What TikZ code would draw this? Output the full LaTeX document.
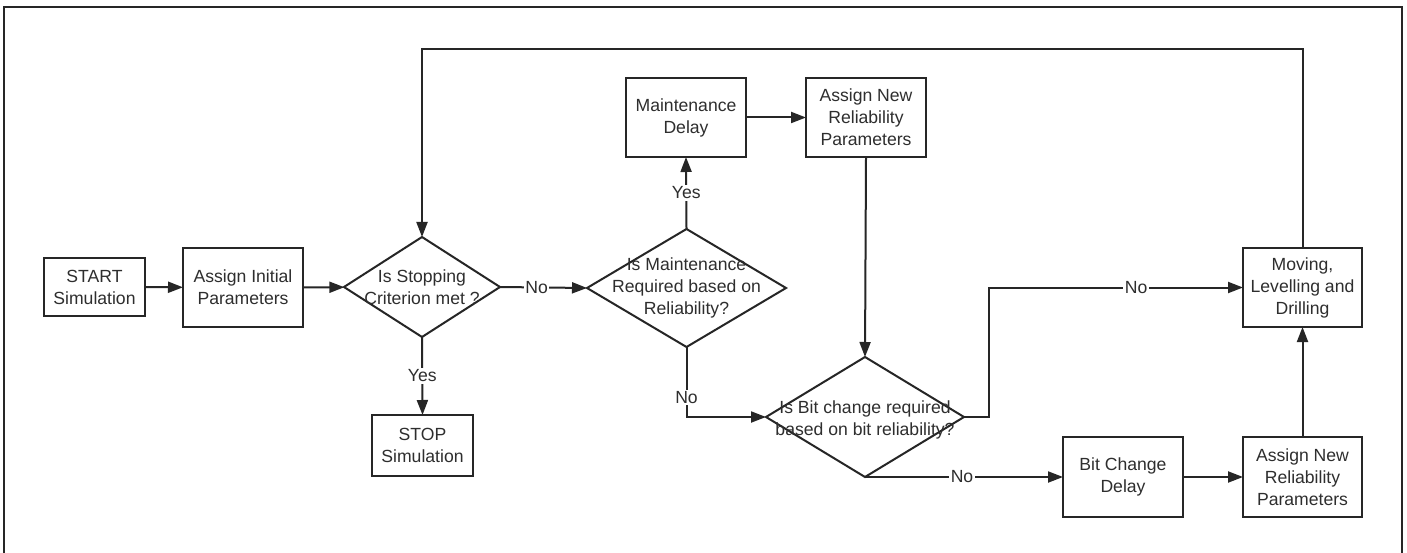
\documentclass[tikz,border=0pt]{standalone}
\usepackage{fontspec}
\setmainfont{Liberation Sans}
\usetikzlibrary{arrows.meta,shapes.geometric}
\definecolor{ink}{HTML}{262626}
\definecolor{txt}{HTML}{2E2E2E}
\begin{document}
\begin{tikzpicture}[x=1pt,y=-1pt,
  every node/.style={font=\fontsize{17.6}{22}\selectfont, text=txt},
  box/.style={draw=ink, line width=2pt, fill=white, inner sep=0pt, outer sep=0pt, align=center},
  dia/.style={draw=ink, line width=2pt, diamond, inner sep=0pt, outer sep=0pt},
  lbl/.style={align=center, inner sep=0pt},
  tag/.style={fill=white, inner sep=1.5pt},
  flow/.style={draw=ink, line width=2pt, -{Triangle[length=15pt,width=11pt]}}]
\useasboundingbox (0,0) rectangle (1407,553);
\fill[white] (0,0) rectangle (1407,553);
% outer frame
\draw[ink, line width=1.3pt] (4,570) -- (4,7) -- (1402,7) -- (1402,570);

% process boxes
\node[box, minimum width=101pt, minimum height=58pt] (start) at (94.5,287) {START\\Simulation};
\node[box, minimum width=120pt, minimum height=79pt] (init) at (243,287.5) {Assign Initial\\Parameters};
\node[box, minimum width=101pt, minimum height=61pt] (stop) at (422.5,445.5) {STOP\\Simulation};
\node[box, minimum width=120pt, minimum height=79pt] (maint) at (686,117.5) {Maintenance\\Delay};
\node[box, minimum width=120pt, minimum height=79pt] (relA) at (866,117.5) {Assign New\\Reliability\\Parameters};
\node[box, minimum width=119pt, minimum height=79pt] (move) at (1302.5,287.5) {Moving,\\Levelling and\\Drilling};
\node[box, minimum width=120pt, minimum height=80pt] (bitd) at (1123,477) {Bit Change\\Delay};
\node[box, minimum width=119pt, minimum height=80pt] (relB) at (1302.5,477) {Assign New\\Reliability\\Parameters};

% decisions
\node[dia, minimum width=156pt, minimum height=100pt] (d1) at (422,287) {};
\node[lbl] at (d1) {Is Stopping\\Criterion met ?};
\node[dia, minimum width=199pt, minimum height=118pt] (d2) at (686.5,288) {};
\node[lbl] at (d2) {Is Maintenance\\Required based on\\Reliability?};
\node[dia, minimum width=198pt, minimum height=120pt] (d3) at (865,417) {};
\node[lbl] at ([yshift=-3pt]d3.center) {Is Bit change required\\based on bit reliability?};

\coordinate (loop) at (1302.5,49);
\coordinate (jog) at (988.5,417);

% connectors
\draw[flow] (start) -- (init);
\draw[flow] (init) -- (d1);
\draw[flow] (d1.east) -- node[tag, pos=0.42] {No} (d2.west);
\draw[flow] (d1.south) -- node[tag, pos=0.5] {Yes} (stop.north);
\draw[flow] (d2.north) -- node[tag, pos=0.5] {Yes} (maint.south);
\draw[flow] (maint) -- (relA);
\draw[flow] (relA.south) -- (d3.north);
\draw[flow] (d2.south) |- node[tag, pos=0.36] {No} (d3.west);
\draw[flow] (d3.east) -- (jog) |- node[tag, pos=0.79] {No} (move.west);
\draw[flow] (d3.south) -- node[tag, pos=0.49] {No} (bitd.west);
\draw[flow] (bitd) -- (relB);
\draw[flow] (relB.north) -- (move.south);
\draw[flow] (move.north) -- (loop) -| (d1.north);
\end{tikzpicture}
\end{document}
